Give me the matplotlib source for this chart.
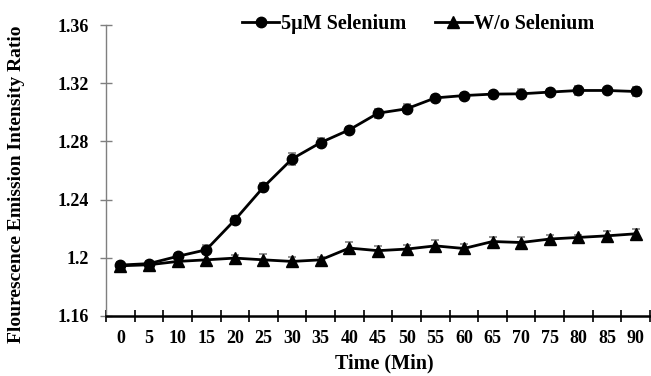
import matplotlib
matplotlib.use("Agg")
import matplotlib.pyplot as plt
import numpy as np

times = [0, 5, 10, 15, 20, 25, 30, 35, 40, 45, 50, 55, 60, 65, 70, 75, 80, 85, 90]
se_vals = [1.195, 1.196, 1.201, 1.2055, 1.226, 1.2486, 1.268, 1.2792, 1.288, 1.2994, 1.3024,
           1.3099, 1.3115, 1.3125, 1.3127, 1.3139, 1.315, 1.315, 1.3143]
se_err = [0.002, 0.002, 0.002, 0.003, 0.003, 0.003, 0.004, 0.003, 0.002, 0.003, 0.003,
          0.002, 0.002, 0.002, 0.003, 0.002, 0.003, 0.002, 0.003]
wo_vals = [1.1945, 1.1952, 1.1975, 1.1986, 1.1998, 1.1986, 1.1975, 1.1986, 1.2067, 1.2049,
           1.206, 1.2082, 1.2064, 1.2112, 1.2105, 1.2129, 1.214, 1.2151, 1.2165]
wo_err = [0.002, 0.002, 0.002, 0.004, 0.002, 0.004, 0.003, 0.002, 0.004, 0.003, 0.003,
          0.004, 0.003, 0.003, 0.004, 0.003, 0.002, 0.003, 0.003]
y_ticks = [1.16, 1.2, 1.24, 1.28, 1.32, 1.36]
y_labels = ["1.16", "1.2", "1.24", "1.28", "1.32", "1.36"]

plt.rcParams['font.family'] = ['Liberation Serif', 'DejaVu Serif']
plt.rcParams['font.weight'] = 'bold'

fig = plt.figure(figsize=(6.51, 3.76), dpi=100)
ax = fig.add_axes([106/651, 60/376, 544/651, 291/376])

x = np.arange(len(times))
gray = '#7f7f7f'
ax.errorbar(x, se_vals, yerr=se_err, fmt='none', ecolor=gray, elinewidth=1.2, capsize=3, capthick=1.2, zorder=2)
ax.errorbar(x, wo_vals, yerr=wo_err, fmt='none', ecolor=gray, elinewidth=1.2, capsize=3, capthick=1.2, zorder=2)
ax.plot(x, se_vals, color='black', lw=2, marker='o', ms=7.5, label='5µM Selenium', zorder=3)
ax.plot(x, wo_vals, color='black', lw=2, marker='^', ms=8.5, label='W/o Selenium', zorder=3)

ax.set_xlim(-0.5, len(times) - 0.5)
ax.set_ylim(1.16, 1.36)
ax.set_yticks(y_ticks)
ax.set_yticklabels(y_labels, fontsize=13, fontweight='bold')
ax.set_xticks(x)
ax.set_xticklabels([str(t) for t in times], fontsize=13, fontweight='bold')
ax.set_xticks(np.arange(-0.5, len(times) + 0.5, 1), minor=True)
ax.tick_params(axis='x', which='major', length=0, pad=10)
ax.tick_params(axis='x', which='minor', direction='inout', length=8, width=1.2, color='black')
ax.tick_params(axis='y', which='major', direction='inout', length=8.5, width=1, color=gray, pad=8)

for s in ['top', 'right']:
    ax.spines[s].set_visible(False)
ax.spines['left'].set_color(gray)
ax.spines['left'].set_linewidth(1)
ax.spines['bottom'].set_color('black')
ax.spines['bottom'].set_linewidth(1.8)

ax.set_xlabel('Time (Min)', fontsize=14.5, fontweight='bold')
ax.xaxis.set_label_coords(0.511, -0.13)
ax.set_ylabel('Flourescence Emission Intensity Ratio', fontsize=14, fontweight='bold')
ax.yaxis.set_label_coords(-0.149, 0.454)

leg = ax.legend(loc='center', bbox_to_anchor=(0.574, 1.003), ncol=2, frameon=False,
                prop={'size': 14.5, 'weight': 'bold'}, handlelength=1.85, handletextpad=0.1,
                columnspacing=1.4, borderaxespad=0, borderpad=0)

fig.savefig('out.png', dpi=100)
